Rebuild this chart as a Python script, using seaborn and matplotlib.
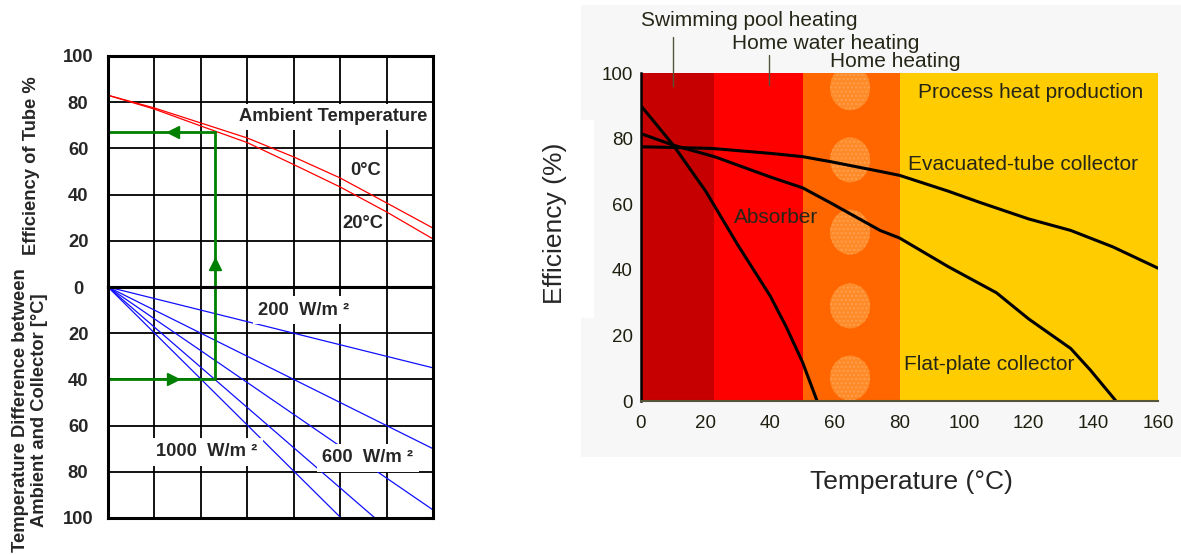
import matplotlib
matplotlib.use("Agg")
import matplotlib.pyplot as plt
from matplotlib.patches import Rectangle, Ellipse
import seaborn as sns

# ---- left chart: efficiency of tube (top) and temperature difference (bottom)
grid_x = [0, 1, 2, 3, 4, 5, 6, 7]
eff_0c = [83, 77.5, 71, 64.5, 56.3, 47.2, 36.4, 25.5]
eff_20c = [83, 77, 69.7, 62.5, 53, 43.3, 32.5, 20.8]
# irradiance lines, all start at the origin
irr_end_x = [7, 7, 7, 5.75, 5.02]
irr_end_dt = [35, 70, 96.5, 100, 100]
# worked example read-off (green)
ex_x = 2.3
ex_eff = 67
ex_dt = 40
left_eff_ticks = [20, 40, 60, 80, 100]
left_dt_ticks = [0, 20, 40, 60, 80, 100]

# ---- right chart: collector efficiency vs temperature
band_lo = [0, 22.5, 50, 80]
band_hi = [22.5, 50, 80, 160]
band_colors = ["#C60000", "#FF0000", "#FF6600", "#FFCC00"]
spot_y = [7, 29, 51.5, 73.5, 95.5]
absorber_t = [0, 10, 20, 30, 40, 45, 50, 54.5]
absorber_eff = [90, 78, 64, 47.5, 32, 22.5, 11.8, 0]
flat_t = [0, 10, 23, 40, 50, 58.5, 74, 80, 95, 110, 120, 133, 139, 147]
flat_eff = [81.5, 78, 74.4, 68.3, 65, 60.5, 52, 49.7, 41, 33, 25, 16, 9.5, 0]
evac_t = [0, 10, 22, 40, 50, 58.5, 74, 80, 95, 105, 120, 133, 146, 160]
evac_eff = [77.5, 77.3, 77, 75.5, 74.5, 73, 70, 68.8, 64, 60.5, 55.5, 52, 47, 40.5]
temp_ticks = [0, 20, 40, 60, 80, 100, 120, 140, 160]
eff_ticks = [0, 20, 40, 60, 80, 100]

sns.set_style("white")
plt.rcParams["font.family"] = ["Liberation Sans", "DejaVu Sans"]

W, H = 1181, 555
fig = plt.figure(figsize=(W / 100, H / 100), dpi=100)
fig.patch.set_facecolor("white")

def fbox(x0, y0, x1, y1):
    # pixel box (top-left origin) -> figure fraction rect
    return [x0 / W, 1 - y1 / H, (x1 - x0) / W, (y1 - y0) / H]

# grey panel behind right chart, white box behind its ylabel
r = fbox(581, 5, 1181, 457)
fig.patches.append(Rectangle((r[0], r[1]), r[2], r[3], transform=fig.transFigure,
                             facecolor="#F7F7F7", edgecolor="none", zorder=-2))
r = fbox(520, 120, 594, 318)
fig.patches.append(Rectangle((r[0], r[1]), r[2], r[3], transform=fig.transFigure,
                             facecolor="white", edgecolor="none", zorder=-1))

ax1 = fig.add_axes(fbox(108, 56, 433, 287))
ax2 = fig.add_axes(fbox(108, 287, 433, 518))
bold = dict(fontweight="bold", fontsize=13.2)

for ax in (ax1, ax2):
    ax.set_xlim(0, 7)
    ax.set_xticks(grid_x)
    ax.set_xticklabels([])
    ax.grid(True, color="black", lw=1.3)
    ax.tick_params(length=0, pad=21.5)
    for s in ax.spines.values():
        s.set_linewidth(2.2)
        s.set_color("black")

ax1.set_ylim(0, 100)
ax1.set_yticks(left_eff_ticks)
ax1.set_yticklabels([str(v) for v in left_eff_ticks], ha="center", **bold)
ax2.set_ylim(100, 0)
ax2.set_yticks(left_dt_ticks)
ax2.set_yticklabels([str(v) for v in left_dt_ticks], ha="center", **bold)

sns.lineplot(x=grid_x, y=eff_0c, ax=ax1, color="red", lw=0.9)
sns.lineplot(x=grid_x, y=eff_20c, ax=ax1, color="red", lw=0.9)
for ex, ed in zip(irr_end_x, irr_end_dt):
    sns.lineplot(x=[0, ex], y=[0, ed], ax=ax2, color="#1010FF", lw=0.9,
                 sort=False, estimator=None)

green = "#008000"
ax1.plot([0, ex_x], [ex_eff, ex_eff], color=green, lw=2)
ax1.plot([ex_x, ex_x], [ex_eff, 0], color=green, lw=2, clip_on=False)
ax1.plot([1.4], [ex_eff], marker="<", ms=9, color=green)
ax1.plot([ex_x], [10], marker="^", ms=9, color=green)
ax2.plot([0, ex_x], [ex_dt, ex_dt], color=green, lw=2)
ax2.plot([ex_x, ex_x], [0, ex_dt], color=green, lw=2)
ax2.plot([1.4], [ex_dt], marker=">", ms=9, color=green)

ax1.text(4.85, 73.6, "Ambient Temperature", ha="center", va="center", zorder=5,
         bbox=dict(facecolor="white", edgecolor="none", pad=3.5), **bold)
ax1.text(5.54, 50.6, "0°C", ha="center", va="center", **bold)
ax1.text(5.5, 27.7, "20°C", ha="center", va="center", **bold)
wbox = dict(facecolor="white", edgecolor="none", pad=4)
ax2.text(4.22, 10, "200  W/m ²", ha="center", va="center", zorder=5, bbox=wbox, **bold)
ax2.text(2.13, 71.4, "1000  W/m ²", ha="center", va="center", zorder=5, bbox=wbox, **bold)
ax2.text(5.6, 74, "600  W/m ²", ha="center", va="center", zorder=5, bbox=wbox, **bold)

fig.text(32 / W, 1 - 166 / H, "Efficiency of Tube %", rotation=90,
         ha="center", va="center", **bold)
fig.text(30 / W, 1 - 410 / H, "Temperature Difference between\nAmbient and Collector [°C]",
         rotation=90, ha="center", va="center", multialignment="center",
         linespacing=1.2, **bold)

# ---- right chart
ax3 = fig.add_axes(fbox(641, 73, 1158, 401))
ax3.set_facecolor("none")
ax3.set_xlim(0, 160)
ax3.set_ylim(0, 100)
for lo, hi, c in zip(band_lo, band_hi, band_colors):
    ax3.axvspan(lo, hi, color=c, lw=0, zorder=0)
for y in spot_y:
    ax3.add_patch(Ellipse((64.7, y), 12.4, 13.7, facecolor="#FF8A28",
                          edgecolor="#FFA050", lw=0, hatch="....", zorder=0.5))

sns.lineplot(x=absorber_t, y=absorber_eff, ax=ax3, color="black", lw=2.2)
sns.lineplot(x=flat_t, y=flat_eff, ax=ax3, color="black", lw=2.2)
sns.lineplot(x=evac_t, y=evac_eff, ax=ax3, color="black", lw=2.2)

txt = "#1f1f10"
ax3.set_xticks(temp_ticks)
ax3.set_yticks(eff_ticks)
ax3.tick_params(direction="in", length=7, width=1.3, color="#3a3a18",
                labelsize=13.5, labelcolor=txt)
ax3.tick_params(axis="x", pad=10)
ax3.tick_params(axis="y", pad=6)
ax3.spines["top"].set_visible(False)
ax3.spines["right"].set_visible(False)
ax3.spines["left"].set_color("black")
ax3.spines["left"].set_linewidth(1.8)
ax3.spines["bottom"].set_color("#55553a")
ax3.spines["bottom"].set_linewidth(1.5)

lead = "#55553a"
ax3.plot([10, 10], [96, 111], color=lead, lw=1, clip_on=False)
ax3.plot([39.7, 39.7], [96.3, 105.5], color=lead, lw=1, clip_on=False)
lab = dict(fontsize=15, color="#262618", ha="center", va="center")
ax3.text(33.4, 116, "Swimming pool heating", clip_on=False, **lab)
ax3.text(57.3, 109, "Home water heating", clip_on=False, **lab)
ax3.text(78.6, 103.4, "Home heating", clip_on=False, **lab)
ax3.text(120.7, 94, "Process heat production", **lab)
ax3.text(118.3, 72, "Evacuated-tube collector", **lab)
ax3.text(41.8, 55.8, "Absorber", **lab)
ax3.text(107.8, 11, "Flat-plate collector", **lab)

fig.text(911 / W, 1 - 482 / H, "Temperature (°C)", fontsize=19, ha="center", va="center")
fig.text(555 / W, 1 - 223 / H, "Efficiency (%)", fontsize=19, rotation=90,
         ha="center", va="center")

fig.savefig("out.png", dpi=100, facecolor="white")
